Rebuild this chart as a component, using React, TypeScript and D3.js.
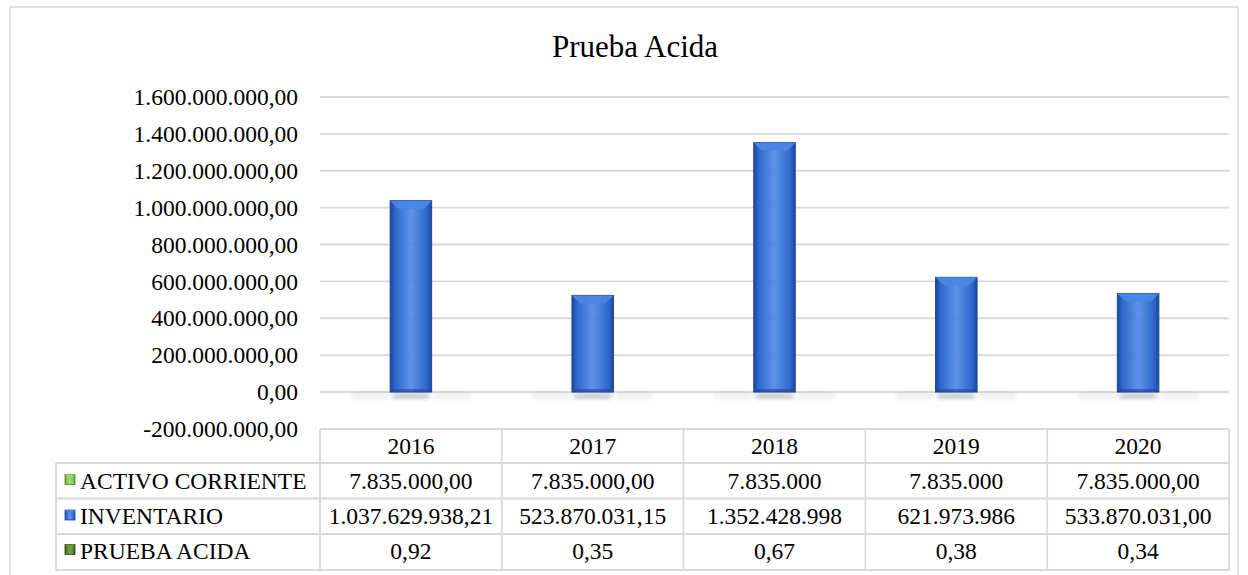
import React from "react";
import * as d3 from "d3";

const title = "Prueba Acida";
const years = ["2016", "2017", "2018", "2019", "2020"];
const seriesNames = ["ACTIVO CORRIENTE", "INVENTARIO", "PRUEBA ACIDA"];
const activoCorriente = [7835000, 7835000, 7835000, 7835000, 7835000];
const inventario = [1037629938.21, 523870031.15, 1352428998, 621973986, 533870031.0];
const pruebaAcida = [0.92, 0.35, 0.67, 0.38, 0.34];
const activoLabels = ["7.835.000,00", "7.835.000,00", "7.835.000", "7.835.000", "7.835.000,00"];
const inventarioLabels = ["1.037.629.938,21", "523.870.031,15", "1.352.428.998", "621.973.986", "533.870.031,00"];
const pruebaLabels = ["0,92", "0,35", "0,67", "0,38", "0,34"];
const yDomain = [-200000000, 1600000000];

const W = 1248;
const H = 575;
const FONT = '"Liberation Serif", "Times New Roman", "DejaVu Serif", serif';

const locale = d3.formatLocale({ decimal: ",", thousands: ".", grouping: [3], currency: ["", ""], minus: "-" });
const fmt = locale.format(",.2f");

const seriesValues = [activoCorriente, inventario, pruebaAcida];
const seriesLabels = [activoLabels, inventarioLabels, pruebaLabels];
const seriesColors = [
  { dark: "#4e8a22", mid: "#7cc242", light: "#9ad964" },
  { dark: "#1b47a0", mid: "#2f67cc", light: "#4a86e4" },
  { dark: "#2c4a16", mid: "#4b7a27", light: "#68993c" },
];

export default function App() {
  const plotL = 320;
  const plotR = 1229;
  const y = d3.scaleLinear().domain(yDomain).range([428.9, 97]);
  const x = d3.scaleBand<string>().domain(years).range([plotL, plotR]).padding(0);
  const bw = x.bandwidth();
  const groupW = bw * 0.685;
  const inner = d3
    .scaleBand<number>()
    .domain([0, 1, 2])
    .range([0, groupW])
    .padding(0);
  const barW = inner.bandwidth();
  const ticks = y.ticks(10);

  const tableTop = y(yDomain[0]);
  const rowTops = [tableTop, 463, 498.5, 534, 570];
  const tableLeft = 56;
  const grid = "#d9d9d9";
  const textStyle = { fontFamily: FONT };

  return (
    <svg width={W} height={H} style={{ display: "block", position: "absolute", left: 0, top: 0, fontFamily: FONT }}>
      <defs>
        {seriesColors.map((c, i) => (
          <linearGradient key={i} id={`g${i}`} x1="0" x2="1" y1="0" y2="0">
            <stop offset="0" stopColor={c.dark} />
            <stop offset="0.12" stopColor={c.mid} />
            <stop offset="0.5" stopColor={c.light} stopOpacity={0.9} />
            <stop offset="0.88" stopColor={c.mid} />
            <stop offset="1" stopColor={c.dark} />
          </linearGradient>
        ))}
        <filter id="blur" x="-50%" y="-200%" width="200%" height="500%">
          <feGaussianBlur stdDeviation="2.5" />
        </filter>
      </defs>
      <rect x={0} y={0} width={W} height={H} fill="#fff" />
      <rect x={10} y={7} width={1228} height={H + 10} fill="none" stroke={grid} strokeWidth={1.5} />

      <text x={635} y={57} textAnchor="middle" fontSize={31} fill="#000" style={textStyle}>
        {title}
      </text>

      {ticks.map((t) => (
        <g key={t}>
          <line x1={plotL} x2={plotR} y1={y(t)} y2={y(t)} stroke={grid} strokeWidth={1.8} />
          <text x={298} y={y(t)} dy="0.35em" textAnchor="end" fontSize={23.5} fill="#000" style={textStyle}>
            {fmt(t)}
          </text>
        </g>
      ))}

      {years.map((yr, i) =>
        seriesValues.map((vals, s) => {
          const bx = (x(yr) as number) + (bw - groupW) / 2 + (inner(s) as number);
          return (
            <rect
              key={`sh${i}-${s}`}
              x={bx + 2}
              y={y(0) + 2}
              width={barW - 4}
              height={4}
              fill="#000"
              opacity={s === 1 ? 0.3 : 0.1}
              filter="url(#blur)"
            />
          );
        })
      )}

      {years.map((yr, i) =>
        seriesValues.map((vals, s) => {
          const bx = (x(yr) as number) + (bw - groupW) / 2 + (inner(s) as number);
          const top = y(vals[i]);
          const h = y(0) - top;
          if (h < 3) {
            return null;
          }
          const bev = Math.min(8, h / 2);
          const c = seriesColors[s];
          return (
            <g key={`b${i}-${s}`}>
              <rect x={bx} y={top} width={barW} height={h} fill={`url(#g${s})`} stroke={c.dark} strokeWidth={1} />
              <polygon
                points={`${bx},${top} ${bx + barW},${top} ${bx + barW - bev},${top + bev} ${bx + bev},${top + bev}`}
                fill={c.light}
                opacity={0.95}
              />
              <polygon
                points={`${bx},${top + h} ${bx + barW},${top + h} ${bx + barW - 3},${top + h - 3} ${bx + 3},${top + h - 3}`}
                fill={c.dark}
                opacity={0.6}
              />
            </g>
          );
        })
      )}

      <g stroke={grid} strokeWidth={1.8} fill="none">
        <line x1={plotL} x2={plotR} y1={rowTops[0]} y2={rowTops[0]} />
        {rowTops.slice(1).map((ry, k) => (
          <line key={k} x1={tableLeft} x2={plotR} y1={ry} y2={ry} />
        ))}
        <line x1={tableLeft} x2={tableLeft} y1={rowTops[1]} y2={rowTops[4]} />
        {years.map((yr) => (
          <line key={yr} x1={x(yr) as number} x2={x(yr) as number} y1={rowTops[0]} y2={rowTops[4]} />
        ))}
        <line x1={plotR} x2={plotR} y1={rowTops[0]} y2={rowTops[4]} />
      </g>
      {years.map((yr) => (
        <text key={yr} x={(x(yr) as number) + bw / 2} y={454} textAnchor="middle" fontSize={23.5} fill="#000" style={textStyle}>
          {yr}
        </text>
      ))}
      {seriesNames.map((name, s) => {
        const baseY = [488.5, 524, 558.5][s];
        const c = seriesColors[s];
        return (
          <g key={name}>
            <rect x={65} y={baseY - 14} width={10} height={10} fill={`url(#g${s})`} stroke={c.dark} strokeWidth={0.8} />
            <polygon points={`65,${baseY - 14} 75,${baseY - 14} 72,${baseY - 11} 68,${baseY - 11}`} fill={c.light} />
            <text x={80} y={baseY} fontSize={23.5} fill="#000" style={textStyle}>
              {name}
            </text>
            {years.map((yr, i) => (
              <text key={yr} x={(x(yr) as number) + bw / 2} y={baseY} textAnchor="middle" fontSize={23.5} fill="#000" style={textStyle}>
                {seriesLabels[s][i]}
              </text>
            ))}
          </g>
        );
      })}
    </svg>
  );
}
